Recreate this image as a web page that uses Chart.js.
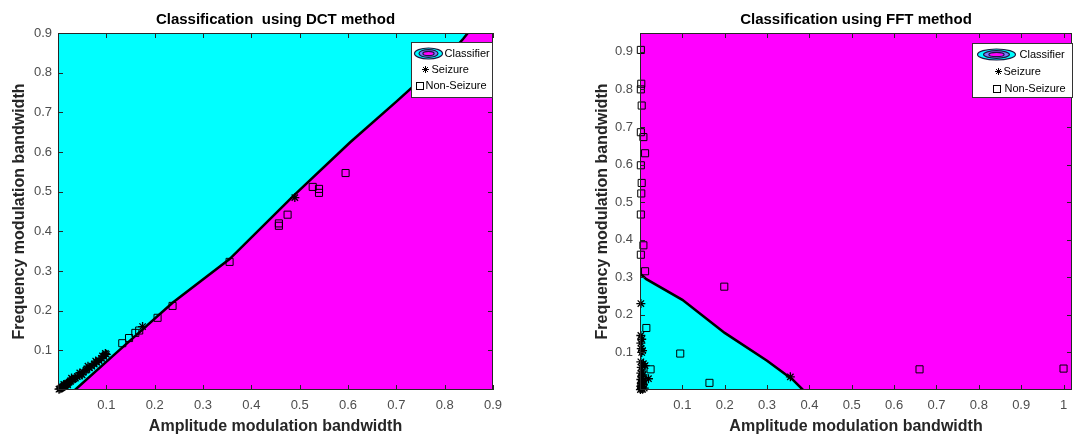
<!DOCTYPE html>
<html>
<head>
<meta charset="utf-8">
<script src="https://cdn.jsdelivr.net/npm/chart.js@4.4.1/dist/chart.umd.min.js"></script>
<style>
  html, body { margin: 0; padding: 0; background: #fff; overflow: hidden; }
  .plot { position: absolute; top: 0; height: 435px; }
  #dctBox { left: 0; width: 540px; }
  #fftBox { left: 560px; width: 518px; }
</style>
</head>
<body>
<div class="plot" id="dctBox"><canvas id="dctChart"></canvas></div>
<div class="plot" id="fftBox"><canvas id="fftChart"></canvas></div>
<script>
// tick values / labels
const dctTicks = [0.1, 0.2, 0.3, 0.4, 0.5, 0.6, 0.7, 0.8, 0.9];
const dctTickLabels = ['0.1', '0.2', '0.3', '0.4', '0.5', '0.6', '0.7', '0.8', '0.9'];
const fftXTicks = [0.1, 0.2, 0.3, 0.4, 0.5, 0.6, 0.7, 0.8, 0.9, 1];
const fftXTickLabels = ['0.1', '0.2', '0.3', '0.4', '0.5', '0.6', '0.7', '0.8', '0.9', '1'];
const fftYTicks = [0.1, 0.2, 0.3, 0.4, 0.5, 0.6, 0.7, 0.8, 0.9];
const fftYTickLabels = ['0.1', '0.2', '0.3', '0.4', '0.5', '0.6', '0.7', '0.8', '0.9'];

// classifier boundaries [am, fm]
const dctBoundary = [[0, 0], [0.035, 0], [0.12, 0.093], [0.237, 0.22], [0.355, 0.33], [0.486, 0.488],
  [0.604, 0.624], [0.70, 0.727], [0.78, 0.815], [0.82, 0.86], [0.838, 0.885], [0.848, 0.9]];
const fftBoundary = [[0, 0.31], [0.015, 0.295], [0.1, 0.24], [0.2, 0.152], [0.3, 0.078], [0.36, 0.028], [0.385, 0]];

// DCT features
const dctSeizure = [[0.002, 0.002], [0.004, 0.003], [0.006, 0.005], [0.008, 0.006], [0.01, 0.008], [0.012, 0.01],
  [0.014, 0.012], [0.016, 0.013], [0.018, 0.015], [0.02, 0.017], [0.023, 0.02], [0.026, 0.022], [0.03, 0.026],
  [0.033, 0.028], [0.036, 0.03], [0.04, 0.034], [0.044, 0.037], [0.048, 0.04], [0.052, 0.045], [0.058, 0.05],
  [0.06, 0.052], [0.065, 0.056], [0.07, 0.06], [0.075, 0.065], [0.08, 0.07], [0.085, 0.074], [0.09, 0.08],
  [0.095, 0.085], [0.1, 0.09], [0.098, 0.092], [0.012, 0.014], [0.028, 0.03], [0.045, 0.043], [0.062, 0.06],
  [0.078, 0.073], [0.092, 0.086], [0.02, 0.013], [0.05, 0.038], [0.175, 0.16], [0.49, 0.485]];
const dctNonSeizure = [[0.133, 0.118], [0.147, 0.131], [0.16, 0.144], [0.168, 0.15], [0.206, 0.182], [0.237, 0.212],
  [0.355, 0.323], [0.457, 0.42], [0.457, 0.414], [0.475, 0.442], [0.527, 0.512], [0.54, 0.507], [0.54, 0.497],
  [0.595, 0.547]];

// FFT features
const fftSeizure = [[0.002, 0.23], [0.002, 0.145], [0.004, 0.135], [0.002, 0.125], [0.003, 0.11], [0.006, 0.105],
  [0.004, 0.1], [0.002, 0.075], [0.008, 0.07], [0.012, 0.065], [0.003, 0.06], [0.005, 0.05], [0.002, 0.045],
  [0.007, 0.04], [0.004, 0.035], [0.02, 0.03], [0.002, 0.028], [0.006, 0.022], [0.003, 0.018], [0.008, 0.015],
  [0.002, 0.01], [0.005, 0.008], [0.003, 0.004], [0.006, 0.002], [0.001, 0.001], [0.009, 0.025], [0.01, 0.005],
  [0.355, 0.035]];
const fftNonSeizure = [[0.002, 0.905], [0.003, 0.815], [0.002, 0.8], [0.004, 0.757], [0.002, 0.686], [0.008, 0.673],
  [0.012, 0.63], [0.002, 0.598], [0.004, 0.551], [0.003, 0.523], [0.002, 0.467], [0.008, 0.385], [0.002, 0.36],
  [0.012, 0.316], [0.015, 0.165], [0.025, 0.055], [0.095, 0.097], [0.164, 0.019], [0.199, 0.275], [0.66, 0.055],
  [1.0, 0.057], [0.003, 0.012], [0.006, 0.03]];

const CYAN = '#00ffff';
const MAGENTA = '#ff00ff';
Chart.defaults.font.family = '"Liberation Sans", Arial, sans-serif';

const pts = arr => arr.map(p => ({x: p[0], y: p[1]}));

// magenta plot background, box + inward ticks like matlab
const frameTicks = {
  id: 'frameTicks',
  beforeDatasetsDraw(chart) {
    const {ctx, chartArea: a} = chart;
    ctx.save();
    ctx.fillStyle = MAGENTA;
    ctx.fillRect(a.left, a.top, a.width, a.height);
    ctx.restore();
  },
  afterDatasetsDraw(chart) {
    const {ctx, chartArea: a, scales: {x, y}} = chart;
    ctx.save();
    ctx.strokeStyle = '#262626';
    ctx.lineWidth = 1;
    ctx.beginPath();
    x.ticks.forEach(t => {
      const px = Math.round(x.getPixelForValue(t.value)) + 0.5;
      ctx.moveTo(px, a.bottom); ctx.lineTo(px, a.bottom - 5);
      ctx.moveTo(px, a.top); ctx.lineTo(px, a.top + 5);
    });
    y.ticks.forEach(t => {
      const py = Math.round(y.getPixelForValue(t.value)) + 0.5;
      ctx.moveTo(a.left, py); ctx.lineTo(a.left + 5, py);
      ctx.moveTo(a.right, py); ctx.lineTo(a.right - 5, py);
    });
    ctx.stroke();
    ctx.strokeRect(a.left + 0.5, a.top + 0.5, a.width - 1, a.height - 1);
    ctx.restore();
  }
};

// legend box with the contour icon
const boxLegend = {
  id: 'boxLegend',
  afterDatasetsDraw(chart, args, o) {
    const {ctx, chartArea: a} = chart;
    const x0 = Math.round(a.right - o.right - o.width) + 0.5;
    const y0 = Math.round(a.top + o.top) + 0.5;
    ctx.save();
    ctx.fillStyle = '#fff';
    ctx.fillRect(x0, y0, o.width, o.height);
    ctx.strokeStyle = '#333';
    ctx.lineWidth = 1;
    ctx.strokeRect(x0, y0, o.width, o.height);

    // classifier icon: nested ellipses
    const cx = x0 + o.ellipseX, cy = y0 + o.rowY[0];
    const rings = [[o.ellipseR, 5.5, CYAN], [o.ellipseR * 0.68, 3.8, '#7a7aff'], [o.ellipseR * 0.4, 2.2, MAGENTA]];
    rings.forEach(r => {
      ctx.beginPath();
      ctx.ellipse(cx, cy, r[0], r[1], 0, 0, Math.PI * 2);
      ctx.fillStyle = r[2];
      ctx.fill();
      ctx.strokeStyle = '#1a1a40';
      ctx.lineWidth = 1.2;
      ctx.stroke();
    });

    // seizure asterisk
    const ax = x0 + o.starX, ay = y0 + o.rowY[1];
    ctx.strokeStyle = '#000';
    ctx.lineWidth = 1;
    ctx.beginPath();
    for (let k = 0; k < 4; k++) {
      const ang = k * Math.PI / 4;
      ctx.moveTo(ax - 3.5 * Math.cos(ang), ay - 3.5 * Math.sin(ang));
      ctx.lineTo(ax + 3.5 * Math.cos(ang), ay + 3.5 * Math.sin(ang));
    }
    ctx.stroke();

    // non-seizure square
    const sx = x0 + o.squareX, sy = y0 + o.rowY[2];
    ctx.strokeRect(Math.round(sx - 3.5) + 0.5, Math.round(sy - 3.5) + 0.5, 7, 7);

    ctx.fillStyle = '#000';
    ctx.font = '11px "Liberation Sans", Arial, sans-serif';
    ctx.textBaseline = 'middle';
    ctx.fillText('Classifier', x0 + o.textX[0], y0 + o.rowY[0]);
    ctx.fillText('Seizure', x0 + o.textX[1], y0 + o.rowY[1]);
    ctx.fillText('Non-Seizure', x0 + o.textX[2], y0 + o.rowY[2]);
    ctx.restore();
  }
};

function makeChart(id, cfg) {
  return new Chart(document.getElementById(id), {
    type: 'scatter',
    data: {
      datasets: [{
        label: 'Seizure',
        data: pts(cfg.seizure),
        pointStyle: 'star',
        pointRadius: 4.5,
        borderColor: '#000',
        borderWidth: 1.3,
        clip: false
      }, {
        label: 'Non-Seizure',
        data: pts(cfg.nonSeizure),
        pointStyle: 'rect',
        pointRadius: 5,
        borderColor: '#000',
        backgroundColor: 'transparent',
        borderWidth: 1,
        clip: false
      }, {
        // contour line
        type: 'line',
        label: 'Classifier',
        data: pts(cfg.boundary.slice(cfg.lineFrom)),
        fill: false,
        borderColor: '#000',
        borderWidth: 2.5,
        pointRadius: 0,
        tension: 0
      }, {
        // cyan class region
        type: 'line',
        label: 'region',
        data: pts(cfg.boundary),
        fill: cfg.fill,
        backgroundColor: CYAN,
        borderWidth: 0,
        pointRadius: 0,
        tension: 0
      }]
    },
    options: {
      responsive: true,
      maintainAspectRatio: false,
      animation: false,
      events: [],
      layout: {padding: {left: 0, right: cfg.padRight, top: 0, bottom: 0}},
      plugins: {
        legend: {display: false},
        tooltip: {enabled: false},
        title: {
          display: true,
          text: cfg.title,
          fullSize: false,
          color: '#000',
          font: {size: 15, weight: 'bold', lineHeight: 1.2},
          padding: {top: 11, bottom: 4}
        },
        boxLegend: cfg.legend
      },
      scales: {
        x: {
          type: 'linear',
          min: 0,
          max: cfg.xMax,
          grid: {display: false, drawTicks: false},
          border: {display: false},
          afterBuildTicks: s => { s.ticks = cfg.xTicks.map(v => ({value: v})); },
          afterFit: s => { s.height = 45; },
          ticks: {
            color: '#4d4d4d',
            font: {size: 13},
            padding: 8,
            maxRotation: 0,
            autoSkip: false,
            callback: (v, i) => cfg.xLabels[i]
          },
          title: {
            display: true,
            text: 'Amplitude modulation bandwidth',
            color: '#262626',
            font: {size: 16, weight: 'bold', lineHeight: 1},
            padding: {top: 0, bottom: 0}
          }
        },
        y: {
          type: 'linear',
          min: 0,
          max: cfg.yMax,
          grid: {display: false, drawTicks: false},
          border: {display: false},
          afterBuildTicks: s => { s.ticks = cfg.yTicks.map(v => ({value: v})); },
          afterFit: s => { s.width = cfg.yWidth; },
          ticks: {
            color: '#4d4d4d',
            font: {size: 13},
            padding: cfg.yTickPad,
            autoSkip: false,
            callback: (v, i) => cfg.yLabels[i]
          },
          title: {
            display: true,
            text: 'Frequency modulation bandwidth',
            color: '#262626',
            font: {size: 16, weight: 'bold', lineHeight: 1},
            padding: {top: cfg.yTitlePad, bottom: 0}
          }
        }
      }
    },
    plugins: [frameTicks, boxLegend]
  });
}

makeChart('dctChart', {
  title: 'Classification  using DCT method',
  boundary: dctBoundary, seizure: dctSeizure, nonSeizure: dctNonSeizure,
  fill: 'end', lineFrom: 1,
  xMax: 0.9, yMax: 0.9,
  xTicks: dctTicks, xLabels: dctTickLabels, yTicks: dctTicks, yLabels: dctTickLabels,
  yWidth: 58, yTitlePad: 12, yTickPad: 6, padRight: 47,
  legend: {width: 81, height: 55, right: 1, top: 9, rowY: [11, 27, 43],
    ellipseX: 17, ellipseR: 14, starX: 14, squareX: 8, textX: [33, 20, 14]}
});

makeChart('fftChart', {
  title: 'Classification using FFT method',
  boundary: fftBoundary, seizure: fftSeizure, nonSeizure: fftNonSeizure,
  fill: 'start', lineFrom: 0,
  xMax: 1.02, yMax: 0.95,
  xTicks: fftXTicks, xLabels: fftXTickLabels, yTicks: fftYTicks, yLabels: fftYTickLabels,
  yWidth: 80, yTitlePad: 35, yTickPad: 7, padRight: 2,
  legend: {width: 100, height: 54, right: 0, top: 10, rowY: [11, 28, 45],
    ellipseX: 24, ellipseR: 19, starX: 26, squareX: 24, textX: [47, 31, 32]}
});
</script>
</body>
</html>
